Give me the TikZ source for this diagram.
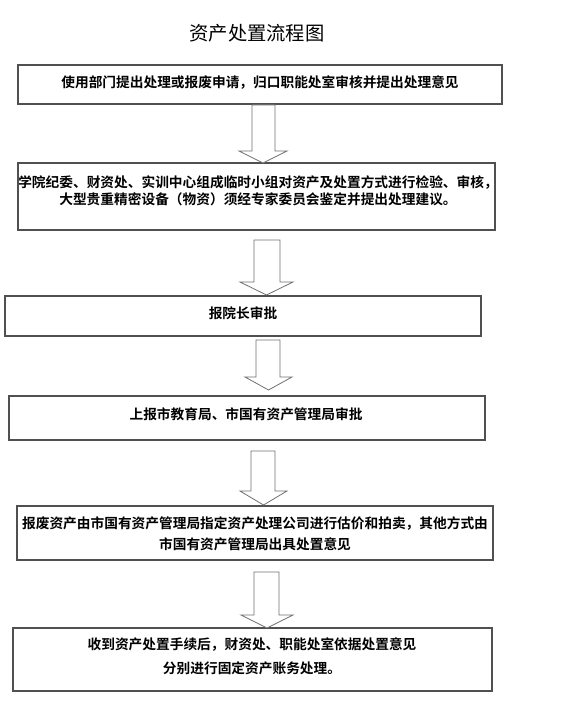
\documentclass[tikz,border=0pt]{standalone}
\usepackage{fontspec}
\newfontfamily\cjk{Noto Sans CJK SC}
\newfontfamily\cjkb{Noto Sans CJK SC Bold}
\definecolor{boxline}{HTML}{505050}
\definecolor{arrline}{HTML}{707070}
\newcommand{\barrow}[7]{\draw[arr] (#1,#5) -- (#2,#5) -- (#2,#6) -- (#4,#6) -- ({(#3+#4)/2},#7) -- (#3,#6) -- (#1,#6) -- cycle;}
\begin{document}
\begin{tikzpicture}[x=1pt,y=-1pt,
  box/.style={draw=boxline,line width=1.3pt,fill=white,inner sep=0pt},
  txt/.style={font=\cjkb\fontsize{13.7}{17}\selectfont,align=center,inner sep=0pt,text=black},
  arr/.style={draw=arrline,line width=0.8pt,fill=white,line join=miter}]
\useasboundingbox (0,0) rectangle (573,706);
\node[font=\cjk\fontsize{19.3}{22}\selectfont,inner sep=0pt] (title) at (257,33) {资产处置流程图};
% boxes
\node[box,minimum width=484,minimum height=39] (b1) at (260,84.5) {};
\node[txt] (t1) at (260,83) {使用部门提出处理或报废申请，归口职能处室审核并提出处理意见};
\node[box,minimum width=477,minimum height=67] (b2) at (256.5,196.5) {};
\node[txt] (t2) at (258,190.5) {学院纪委、财资处、实训中心组成临时小组对资产及处置方式进行检验、审核，\\大型贵重精密设备（物资）须经专家委员会鉴定并提出处理建议。};
\node[box,minimum width=476,minimum height=40] (b3) at (243,316) {};
\node[txt] (t3) at (243,313) {报院长审批};
\node[box,minimum width=476,minimum height=44] (b4) at (247,418) {};
\node[txt] (t4) at (246,414) {上报市教育局、市国有资产管理局审批};
\node[box,minimum width=476,minimum height=54] (b5) at (255,533) {};
\node[txt,font=\cjkb\fontsize{13.7}{21}\selectfont] (t5) at (255,533.5) {报废资产由市国有资产管理局指定资产处理公司进行估价和拍卖，其他方式由\\市国有资产管理局出具处置意见};
\node[box,minimum width=479,minimum height=63] (b6) at (252.5,659.5) {};
\node[txt,font=\cjkb\fontsize{13.7}{24}\selectfont] (t6) at (252,656) {收到资产处置手续后，财资处、职能处室依据处置意见\\分别进行固定资产账务处理。};
% block arrows
\barrow{252}{275}{239}{287}{105}{151}{163}
\barrow{254}{280}{240}{293}{240}{282}{295}
\barrow{256}{280}{245}{292}{340}{377}{390}
\barrow{251}{275}{240}{287}{451}{491}{505}
\barrow{254}{279}{241}{293}{572}{615}{628}
\end{tikzpicture}
\end{document}
